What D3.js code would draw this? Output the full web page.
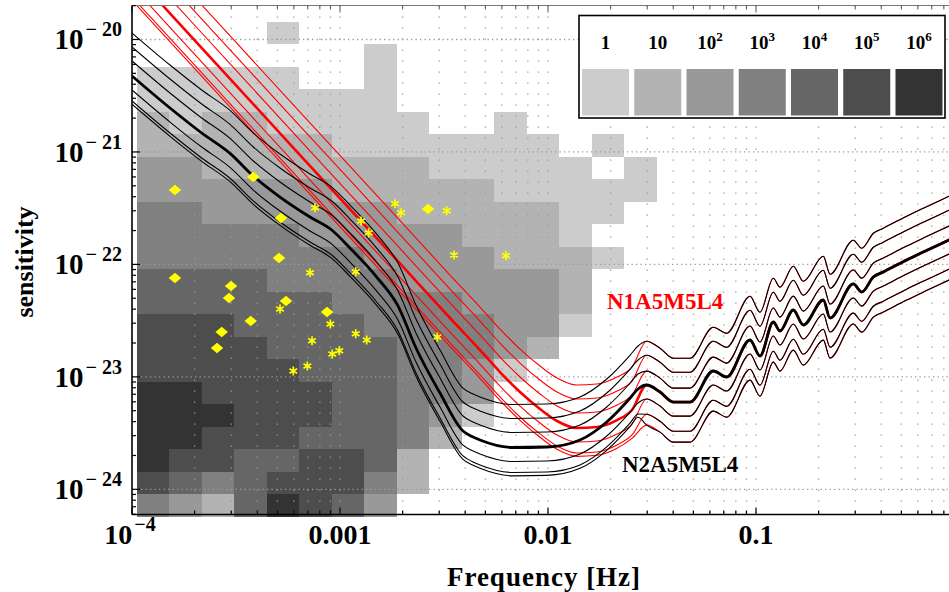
<!DOCTYPE html>
<html>
<head>
<meta charset="utf-8">
<script src="https://cdn.jsdelivr.net/npm/d3@7"></script>
<style>
  html, body { margin: 0; padding: 0; background: #fff; }
  svg { display: block; }
  text { font-family: "Liberation Serif", "Times New Roman", serif; font-weight: bold; }
</style>
</head>
<body>
<svg id="chart" width="949" height="592"></svg>
<script>
// ---------- data ----------

// Source-count density map: bin edges in frequency (Hz) and sensitivity.
const colEdges = [1.053e-4, 1.510e-4, 2.163e-4, 3.100e-4, 4.442e-4, 6.366e-4, 9.123e-4,
  1.307e-3, 1.873e-3, 2.684e-3, 3.847e-3, 5.512e-3, 7.899e-3, 1.132e-2, 1.622e-2,
  2.324e-2, 3.331e-2];
const rowEdges = [1.439e-20, 9.08e-21, 5.73e-21, 3.61e-21, 2.28e-21,
  1.439e-21, 9.08e-22, 5.73e-22, 3.61e-22, 2.28e-22,
  1.439e-22, 9.08e-23, 5.73e-23, 3.61e-23, 2.28e-23,
  1.439e-23, 9.08e-24, 5.73e-24, 3.61e-24, 2.28e-24,
  1.439e-24, 9.08e-25, 5.73e-25];
// one string per sensitivity bin (top to bottom); each digit is log10(count), "." = no sources
const densityRows = [
  "....0...........",
  ".......0........",
  "00000..0........",
  "00000000........",
  "101100000..0....",
  "1111110000000.0.",
  "22111111100000.0",
  "2222221111100000",
  "332222221111100.",
  "33333222221110..",
  "333333322221110.",
  "44443333222221..",
  "44444433332221..",
  "55544443333220..",
  "5555444433321...",
  "555554443320....",
  "66555544332.....",
  "66655544320.....",
  "6655544431......",
  "655445541.......",
  "543455531.......",
  "32146542........"
];
const levelColors = ["#cccccc", "#b3b3b3", "#999999", "#808080", "#666666", "#4d4d4d", "#333333"];
const legendExponents = [0, 1, 2, 3, 4, 5, 6];

// Reference sensitivity curves (middle curve of each family)
const blackLowFreq = [1e-4, 1.523e-4, 2.163e-4, 2.959e-4, 3.831e-4, 5.147e-4, 7.175e-4, 9.123e-4,
  1.117e-3, 1.501e-3, 1.900e-3, 2.319e-3, 3.026e-3, 3.902e-3, 4.311e-3, 4.71e-3, 6.79e-3,
  9.89e-3, 1.425e-2, 1.922e-2, 2.478e-2, 2.709e-2];
const blackLowH = [4.74e-21, 2.459e-21, 1.474e-21, 9.72e-22, 6.11e-22, 3.975e-22, 2.64e-22, 2.022e-22,
  1.399e-22, 7.72e-23, 4.27e-23, 1.805e-23, 7.18e-24, 3.30e-24, 2.948e-24, 2.744e-24, 2.353e-24,
  2.377e-24, 2.744e-24, 3.99e-24, 6.45e-24, 7.80e-24];
const redLowFreq = [1e-4, 2.122e-4, 6.424e-4, 1.943e-3, 3.379e-3, 4.71e-3, 5.877e-3, 7.335e-3,
  9.152e-3, 1.105e-2, 1.378e-2, 1.720e-2, 2.146e-2, 2.534e-2];
const redLowH = [3.984e-20, 8.75e-21, 9.39e-22, 1.019e-22, 3.337e-23, 1.733e-23, 1.104e-23, 7.33e-24,
  5.18e-24, 4.05e-24, 3.508e-24, 3.581e-24, 4.13e-24, 5.07e-24];
// shared high-frequency part (both families coincide here)
const tailFreq = [0.02981, 0.03456, 0.04003, 0.04816, 0.06232, 0.07228, 0.09358, 0.1045, 0.1211,
  0.1304, 0.1511, 0.1688, 0.2107, 0.2269, 0.2937, 0.3223, 0.3665, 0.4093, 0.5302, 0.6372, 0.847, 1.0];
const tailH = [8.46e-24, 7.33e-24, 5.97e-24, 5.97e-24, 1.127e-23, 9.97e-24, 2.127e-23, 1.533e-23,
  3.075e-23, 2.557e-23, 3.93e-23, 2.891e-23, 4.825e-23, 3.337e-23, 6.70e-23, 5.68e-23, 7.72e-23,
  8.56e-23, 1.094e-22, 1.289e-22, 1.648e-22, 1.902e-22];
// the seven curves of a family, as multiples of the reference curve (index 3 = reference, drawn thick)
const lowScale  = [2.41, 1.81, 1.36, 1, 0.75, 0.60, 0.56];
const tailScale = [2.45, 1.84, 1.33, 1, 0.75, 0.55, 0.44];

// Individual sources
const diamondF = [1.609e-4, 3.831e-4, 5.204e-4, 5.090e-4, 1.609e-4, 2.992e-4, 2.926e-4, 5.50e-4,
  8.66e-4, 3.722e-4, 2.699e-4, 2.563e-4, 2.649e-3];
const diamondH = [4.59e-22, 5.99e-22, 2.586e-22, 1.140e-22, 7.57e-23, 6.43e-23, 5.03e-23, 4.73e-23,
  3.773e-23, 3.139e-23, 2.506e-23, 1.805e-23, 3.11e-22];
const starF = [7.583e-4, 1.838e-3, 1.965e-3, 1.262e-3, 1.374e-3, 3.258e-3, 3.532e-3, 6.28e-3,
  7.175e-4, 1.190e-3, 5.147e-4, 8.98e-4, 7.335e-4, 1.190e-3, 1.344e-3, 9.18e-4, 9.92e-4,
  6.965e-4, 5.963e-4, 2.936e-3];
const starH = [3.193e-22, 3.465e-22, 2.883e-22, 2.431e-22, 1.913e-22, 3.003e-22, 1.212e-22, 1.195e-22,
  8.44e-23, 8.61e-23, 4.01e-23, 2.951e-23, 2.097e-23, 2.42e-23, 2.127e-23, 1.596e-23, 1.708e-23,
  1.248e-23, 1.127e-23, 2.261e-23];

const xTickValues = [1e-4, 1e-3, 1e-2, 1e-1];
const xTickLabels = [["10", "−4"], ["0.001"], ["0.01"], ["0.1"]];
const yTickValues = [1e-20, 1e-21, 1e-22, 1e-23, 1e-24];
const yTickLabels = ["20", "21", "22", "23", "24"];

// ---------- drawing ----------
const svg = d3.select("#chart");
const L = 132, R = 964, T = 5.5, B = 514.5;
const x = d3.scaleLog().domain([1e-4, 1]).range([L, R]);
const y = d3.scaleLog().domain([5.97e-25, 2.006e-20]).range([B, T]);

svg.append("defs").append("clipPath").attr("id", "plotClip")
  .append("rect").attr("x", L).attr("y", T).attr("width", R - L).attr("height", B - T);

// density cells
const cells = [];
densityRows.forEach((row, j) => {
  [...row].forEach((c, i) => { if (c !== ".") cells.push({ i, j, level: +c }); });
});
svg.append("g").attr("shape-rendering", "crispEdges")
  .selectAll("rect").data(cells).join("rect")
  .attr("x", d => x(colEdges[d.i]))
  .attr("width", d => x(colEdges[d.i + 1]) - x(colEdges[d.i]))
  .attr("y", d => y(rowEdges[d.j]))
  .attr("height", d => y(rowEdges[d.j + 1]) - y(rowEdges[d.j]))
  .attr("fill", d => levelColors[d.level]);

// dotted grid
const grid = svg.append("g").attr("stroke", "#9a9a9a").attr("fill", "none");
grid.selectAll("line.v").data(x.ticks().filter(v => v > 1e-4)).join("line")
  .attr("class", "v")
  .attr("x1", d => x(d)).attr("x2", d => x(d))
  .attr("y1", T).attr("y2", B)
  .attr("stroke-width", 1.3).attr("stroke-dasharray", "1.3 9.7");
grid.selectAll("line.h").data(yTickValues).join("line")
  .attr("class", "h")
  .attr("x1", L).attr("x2", R)
  .attr("y1", d => y(d)).attr("y2", d => y(d))
  .attr("stroke-width", 1.3).attr("stroke-dasharray", "1.3 3.2");

// sensitivity curves
const line = d3.line().x(d => x(d[0])).y(d => y(d[1])).curve(d3.curveMonotoneX);
function family(lowF, lowH) {
  return lowScale.map((s, k) =>
    lowF.map((f, i) => [f, lowH[i] * s])
      .concat(tailFreq.map((f, i) => [f, tailH[i] * tailScale[k]])));
}
const curves = svg.append("g").attr("clip-path", "url(#plotClip)").attr("fill", "none")
  .attr("stroke-linejoin", "round");
curves.selectAll("path.red").data(family(redLowFreq, redLowH)).join("path")
  .attr("class", "red")
  .attr("d", line)
  .attr("stroke", "#ff0000")
  .attr("stroke-width", (d, k) => k === 3 ? 2.6 : 1.1);
curves.selectAll("path.black").data(family(blackLowFreq, blackLowH)).join("path")
  .attr("class", "black")
  .attr("d", line)
  .attr("stroke", "#000")
  .attr("stroke-width", (d, k) => k === 3 ? 2.8 : 1.1);

// sources
const marks = svg.append("g");
marks.selectAll("path.dia").data(diamondF.map((f, i) => [f, diamondH[i]])).join("path")
  .attr("class", "dia")
  .attr("d", d3.symbol(d3.symbolSquare, 78))
  .attr("transform", d => `translate(${x(d[0])},${y(d[1])}) scale(1,0.85) rotate(45)`)
  .attr("fill", "#ffff00");
marks.selectAll("path.star").data(starF.map((f, i) => [f, starH[i]])).join("path")
  .attr("class", "star")
  .attr("d", d3.symbol(d3.symbolAsterisk, 55))
  .attr("transform", d => `translate(${x(d[0])},${y(d[1])})`)
  .attr("fill", "none").attr("stroke", "#ffff00").attr("stroke-width", 1.7);

// family labels
svg.append("text").attr("x", 607).attr("y", 309).attr("font-size", 23).attr("fill", "#ff0000")
  .text("N1A5M5L4");
svg.append("text").attr("x", 622).attr("y", 472).attr("font-size", 23).attr("fill", "#000")
  .text("N2A5M5L4");

// frame and ticks
const ax = svg.append("g").attr("fill", "none");
ax.append("line").attr("x1", L).attr("x2", 949).attr("y1", T).attr("y2", T)
  .attr("stroke", "#777").attr("stroke-width", 1);
const isMajor = v => Math.abs(Math.log10(v) - Math.round(Math.log10(v))) < 1e-6;
ax.selectAll("line.yt").data(y.ticks()).join("line").attr("class", "yt")
  .attr("x1", L).attr("x2", d => L + (isMajor(d) ? 8 : 4))
  .attr("y1", d => y(d)).attr("y2", d => y(d))
  .attr("stroke", "#000").attr("stroke-width", 1.2);
ax.selectAll("line.xb").data(x.ticks()).join("line").attr("class", "xb")
  .attr("x1", d => x(d)).attr("x2", d => x(d))
  .attr("y1", B).attr("y2", d => B - (isMajor(d) ? 7 : 4))
  .attr("stroke", "#000").attr("stroke-width", 1.2);
ax.selectAll("line.xt").data(x.ticks()).join("line").attr("class", "xt")
  .attr("x1", d => x(d)).attr("x2", d => x(d))
  .attr("y1", T).attr("y2", d => T + (isMajor(d) ? 7 : 4))
  .attr("stroke", "#555").attr("stroke-width", 1);
ax.append("line").attr("x1", L).attr("x2", L).attr("y1", T).attr("y2", B)
  .attr("stroke", "#000").attr("stroke-width", 1.6);
ax.append("line").attr("x1", L).attr("x2", 949).attr("y1", B).attr("y2", B)
  .attr("stroke", "#000").attr("stroke-width", 1.6);

// tick labels
yTickValues.forEach((v, i) => {
  const t = svg.append("text").attr("x", 122).attr("y", y(v) + 10).attr("text-anchor", "end");
  t.append("tspan").attr("font-size", 29).text("10");
  t.append("tspan").attr("font-size", 20).attr("dy", -13).attr("dx", 2).text("−");
  t.append("tspan").attr("font-size", 20).attr("dx", 5).text(yTickLabels[i]);
});
xTickValues.forEach((v, i) => {
  const t = svg.append("text").attr("x", x(v) - (i === 0 ? 2 : 0)).attr("y", 544).attr("text-anchor", "middle");
  const lab = xTickLabels[i];
  t.append("tspan").attr("font-size", 28).text(lab[0]);
  if (lab.length > 1) {
    t.append("tspan").attr("font-size", 20).attr("dy", -13).attr("dx", 2).text(lab[1]);
  }
});

// axis titles
svg.append("text").attr("x", 544).attr("y", 586).attr("text-anchor", "middle")
  .attr("font-size", 27).attr("letter-spacing", 1).text("Frequency [Hz]");
svg.append("text").attr("transform", "translate(33,262) rotate(-90)").attr("text-anchor", "middle")
  .attr("font-size", 26).text("sensitivity");

// legend
const lg = svg.append("g");
lg.append("rect").attr("x", 579).attr("y", 15.5).attr("width", 366).attr("height", 102.5)
  .attr("fill", "#fff").attr("stroke", "#000").attr("stroke-width", 1.6);
const sw = 47, step = 52.25, sx0 = 582;
lg.selectAll("rect.sw").data(legendExponents).join("rect").attr("class", "sw")
  .attr("x", (d, i) => sx0 + i * step).attr("y", 69).attr("width", sw).attr("height", 46.5)
  .attr("fill", (d, i) => levelColors[i]);
legendExponents.forEach((e, i) => {
  const t = lg.append("text").attr("x", sx0 + i * step + sw / 2).attr("y", 49).attr("text-anchor", "middle");
  if (e === 0) t.append("tspan").attr("font-size", 19).text("1");
  else if (e === 1) t.append("tspan").attr("font-size", 19).text("10");
  else {
    t.append("tspan").attr("font-size", 19).text("10");
    t.append("tspan").attr("font-size", 13).attr("dy", -8).text(String(e));
  }
});
</script>
</body>
</html>
